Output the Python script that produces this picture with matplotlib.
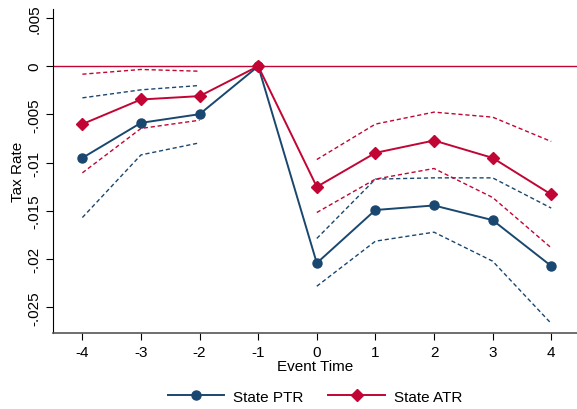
import matplotlib
matplotlib.use("Agg")
import matplotlib.pyplot as plt
from matplotlib.ticker import FuncFormatter

# Event time and point estimates
event_time = [-4, -3, -2, -1, 0, 1, 2, 3, 4]
ptr = [-0.0095, -0.00587, -0.00497, 0.0, -0.0204, -0.0149, -0.01443, -0.01595, -0.0207]
atr = [-0.0060, -0.00345, -0.0031, 0.0, -0.0125, -0.00898, -0.0077, -0.0095, -0.01329]

# Confidence bands (no band at the reference period -1)
ci_time = [[-4, -3, -2], [0, 1, 2, 3, 4]]
ptr_hi = [[-0.00328, -0.00245, -0.0020], [-0.01785, -0.0117, -0.01157, -0.01157, -0.0147]]
ptr_lo = [[-0.01568, -0.00919, -0.00794], [-0.0228, -0.01813, -0.0172, -0.0202, -0.02666]]
atr_hi = [[-0.00083, -0.00034, -0.00052], [-0.00967, -0.0060, -0.00476, -0.00528, -0.0078]]
atr_lo = [[-0.01105, -0.00645, -0.0056], [-0.01516, -0.0117, -0.0106, -0.0136, -0.01882]]

y_ticks = [0.005, 0, -0.005, -0.01, -0.015, -0.02, -0.025]

BLUE = "#1a476f"
RED = "#c10534"

plt.rcParams["font.family"] = ["Liberation Sans", "DejaVu Sans"]
plt.rcParams["axes.unicode_minus"] = False

fig = plt.figure(figsize=(5.77, 4.10), dpi=100)
ax = fig.add_axes([0.092, 0.185, 0.908, 0.79])

ax.axhline(0, color=RED, lw=1.0, zorder=1)

dash = (0, (3, 2))
for t, hi, lo in zip(ci_time, ptr_hi, ptr_lo):
    ax.plot(t, hi, color=BLUE, lw=1.0, ls=dash)
    ax.plot(t, lo, color=BLUE, lw=1.0, ls=dash)
for t, hi, lo in zip(ci_time, atr_hi, atr_lo):
    ax.plot(t, hi, color=RED, lw=1.0, ls=dash)
    ax.plot(t, lo, color=RED, lw=1.0, ls=dash)

ax.plot(event_time, ptr, color=BLUE, lw=1.4, marker="o", ms=6.5, label="State PTR", zorder=3)
ax.plot(event_time, atr, color=RED, lw=1.4, marker="D", ms=6, label="State ATR", zorder=4)

ax.set_xlim(-4.5, 4.44)
ax.set_ylim(-0.02766, 0.0059)
ax.set_xticks(event_time)
ax.set_yticks(y_ticks)


def strip_zero(v, pos):
    if abs(v) < 1e-12:
        return "0"
    s = f"{v:g}"
    return s.replace("0.", ".")


ax.yaxis.set_major_formatter(FuncFormatter(strip_zero))
ax.tick_params(axis="y", labelrotation=90, labelsize=11, length=5)
ax.tick_params(axis="x", labelsize=11, length=5)
for lbl in ax.get_yticklabels():
    lbl.set_va("center")

for side in ("top", "right"):
    ax.spines[side].set_visible(False)
ax.spines["left"].set_color("black")
ax.spines["bottom"].set_color("#555555")
ax.spines["bottom"].set_linewidth(1.2)

ax.set_xlabel("Event Time", fontsize=11, labelpad=0)
ax.set_ylabel("Tax Rate", fontsize=11, labelpad=2)

fig.legend(loc="center", bbox_to_anchor=(0.546, 0.03), ncol=2, frameon=False,
           fontsize=11, handlelength=3.7, handletextpad=0.6, columnspacing=1.6)

fig.savefig("out.png", dpi=100)
